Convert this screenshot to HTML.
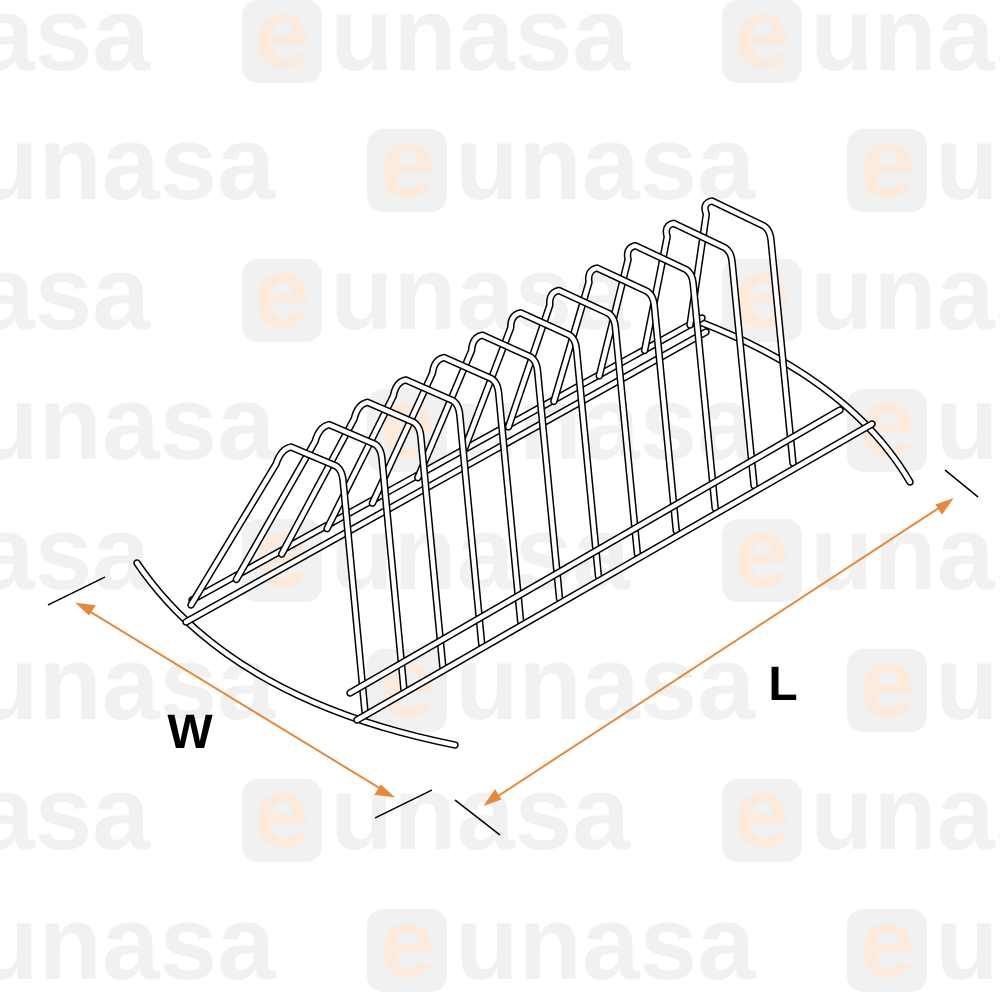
<!DOCTYPE html>
<html><head><meta charset="utf-8"><style>html,body{margin:0;padding:0;background:#fff}svg{display:block}</style></head>
<body>
<svg id="s" width="1000" height="1000" viewBox="0 0 1000 1000" xmlns="http://www.w3.org/2000/svg">
<defs>
<g id="box"><rect x="0" y="0" width="80" height="83" rx="16" fill="#f1f1f1"/><text x="40" y="68" text-anchor="middle" font-family="Liberation Sans, sans-serif" font-weight="bold" font-size="100" fill="#fcebdc">e</text></g>
</defs>
<g font-family="Liberation Sans, sans-serif" font-weight="bold" font-size="105" fill="#f1f1f1">
<g transform="translate(0,0)"><text x="-150" y="70" textLength="300" lengthAdjust="spacingAndGlyphs">unasa</text><use href="#box" x="242"/><text x="330" y="70" textLength="300" lengthAdjust="spacingAndGlyphs">unasa</text><use href="#box" x="722"/><text x="810" y="70" textLength="300" lengthAdjust="spacingAndGlyphs">unasa</text></g>
<g transform="translate(0,129)"><text x="-25" y="70" textLength="300" lengthAdjust="spacingAndGlyphs">unasa</text><use href="#box" x="367"/><text x="455" y="70" textLength="300" lengthAdjust="spacingAndGlyphs">unasa</text><use href="#box" x="847"/><text x="935" y="70" textLength="300" lengthAdjust="spacingAndGlyphs">unasa</text></g>
<g transform="translate(0,259)"><text x="-150" y="70" textLength="300" lengthAdjust="spacingAndGlyphs">unasa</text><use href="#box" x="242"/><text x="330" y="70" textLength="300" lengthAdjust="spacingAndGlyphs">unasa</text><use href="#box" x="722"/><text x="810" y="70" textLength="300" lengthAdjust="spacingAndGlyphs">unasa</text></g>
<g transform="translate(0,389)"><text x="-25" y="70" textLength="300" lengthAdjust="spacingAndGlyphs">unasa</text><use href="#box" x="367"/><text x="455" y="70" textLength="300" lengthAdjust="spacingAndGlyphs">unasa</text><use href="#box" x="847"/><text x="935" y="70" textLength="300" lengthAdjust="spacingAndGlyphs">unasa</text></g>
<g transform="translate(0,519)"><text x="-150" y="70" textLength="300" lengthAdjust="spacingAndGlyphs">unasa</text><use href="#box" x="242"/><text x="330" y="70" textLength="300" lengthAdjust="spacingAndGlyphs">unasa</text><use href="#box" x="722"/><text x="810" y="70" textLength="300" lengthAdjust="spacingAndGlyphs">unasa</text></g>
<g transform="translate(0,649)"><text x="-25" y="70" textLength="300" lengthAdjust="spacingAndGlyphs">unasa</text><use href="#box" x="367"/><text x="455" y="70" textLength="300" lengthAdjust="spacingAndGlyphs">unasa</text><use href="#box" x="847"/><text x="935" y="70" textLength="300" lengthAdjust="spacingAndGlyphs">unasa</text></g>
<g transform="translate(0,779)"><text x="-150" y="70" textLength="300" lengthAdjust="spacingAndGlyphs">unasa</text><use href="#box" x="242"/><text x="330" y="70" textLength="300" lengthAdjust="spacingAndGlyphs">unasa</text><use href="#box" x="722"/><text x="810" y="70" textLength="300" lengthAdjust="spacingAndGlyphs">unasa</text></g>
<g transform="translate(0,909)"><text x="-25" y="70" textLength="300" lengthAdjust="spacingAndGlyphs">unasa</text><use href="#box" x="367"/><text x="455" y="70" textLength="300" lengthAdjust="spacingAndGlyphs">unasa</text><use href="#box" x="847"/><text x="935" y="70" textLength="300" lengthAdjust="spacingAndGlyphs">unasa</text></g>
</g>
<g id="rack" fill="none" stroke-linecap="round" stroke-linejoin="round"></g>
<g stroke="#e8883a" stroke-width="2" fill="#e8883a">
<line x1="84" y1="608" x2="386" y2="792"/>
<polygon points="78,604 94,606 89,614"/>
<polygon points="392,796 376,794 381,786"/>
<line x1="492" y1="800" x2="945" y2="504"/>
<polygon points="486,804 495,791 500,799"/>
<polygon points="951,500 942,513 937,505"/>
</g>
<g stroke="#000" stroke-width="1.5">
<line x1="48" y1="605" x2="105" y2="577"/>
<line x1="375" y1="818" x2="432" y2="790"/>
<line x1="455" y1="800" x2="500" y2="835"/>
<line x1="945" y1="470" x2="978" y2="497"/>
</g>
<text x="190" y="748" text-anchor="middle" font-family="Liberation Sans, sans-serif" font-weight="bold" font-size="48">W</text>
<text x="783" y="700" text-anchor="middle" font-family="Liberation Sans, sans-serif" font-weight="bold" font-size="48">L</text>
</svg>
<script>
(function(){
var g=document.getElementById('rack'),NS='http://www.w3.org/2000/svg';
function tube(d){
 var a=document.createElementNS(NS,'path');a.setAttribute('d',d);a.setAttribute('stroke','#000');a.setAttribute('stroke-width','7.5');g.appendChild(a);
 var b=document.createElementNS(NS,'path');b.setAttribute('d',d);b.setAttribute('stroke','#fff');b.setAttribute('stroke-width','4.5');g.appendChild(b);
}
tube('M137,563 Q230,700 455,745');
tube('M700,322 Q850,380 910,482');
tube('M192,600 L702,318');
tube('M186,622 L706,332');
function L(a,b,t){return a+(b-a)*t;}
for(var i=11;i>=0;i--){
 var t=i/11;
 var tl=[L(283,704,t),L(445,199,t)],tr=[L(342,770,t),L(470,230,t)],br=[L(365,793,t),L(712,463,t)],bl=[L(191,690,t),L(605,325,t)];
 var m=[tl[0]+ (bl[0]-tl[0])*0.12, tl[1]+(bl[1]-tl[1])*0.12];
 tube('M'+bl[0]+','+bl[1]+' L'+(m[0]+4)+','+m[1]+' Q'+(tl[0]-2)+','+(tl[1]+4)+' '+(tl[0]+8)+','+(tl[1]+2)+' L'+(tr[0]-6)+','+(tr[1]-4)+' Q'+tr[0]+','+tr[1]+' '+(tr[0]+1)+','+(tr[1]+10)+' L'+br[0]+','+br[1]);
}
tube('M350,693 L840,410');
tube('M357,720 L872,424');
})();
</script>
</body></html>
